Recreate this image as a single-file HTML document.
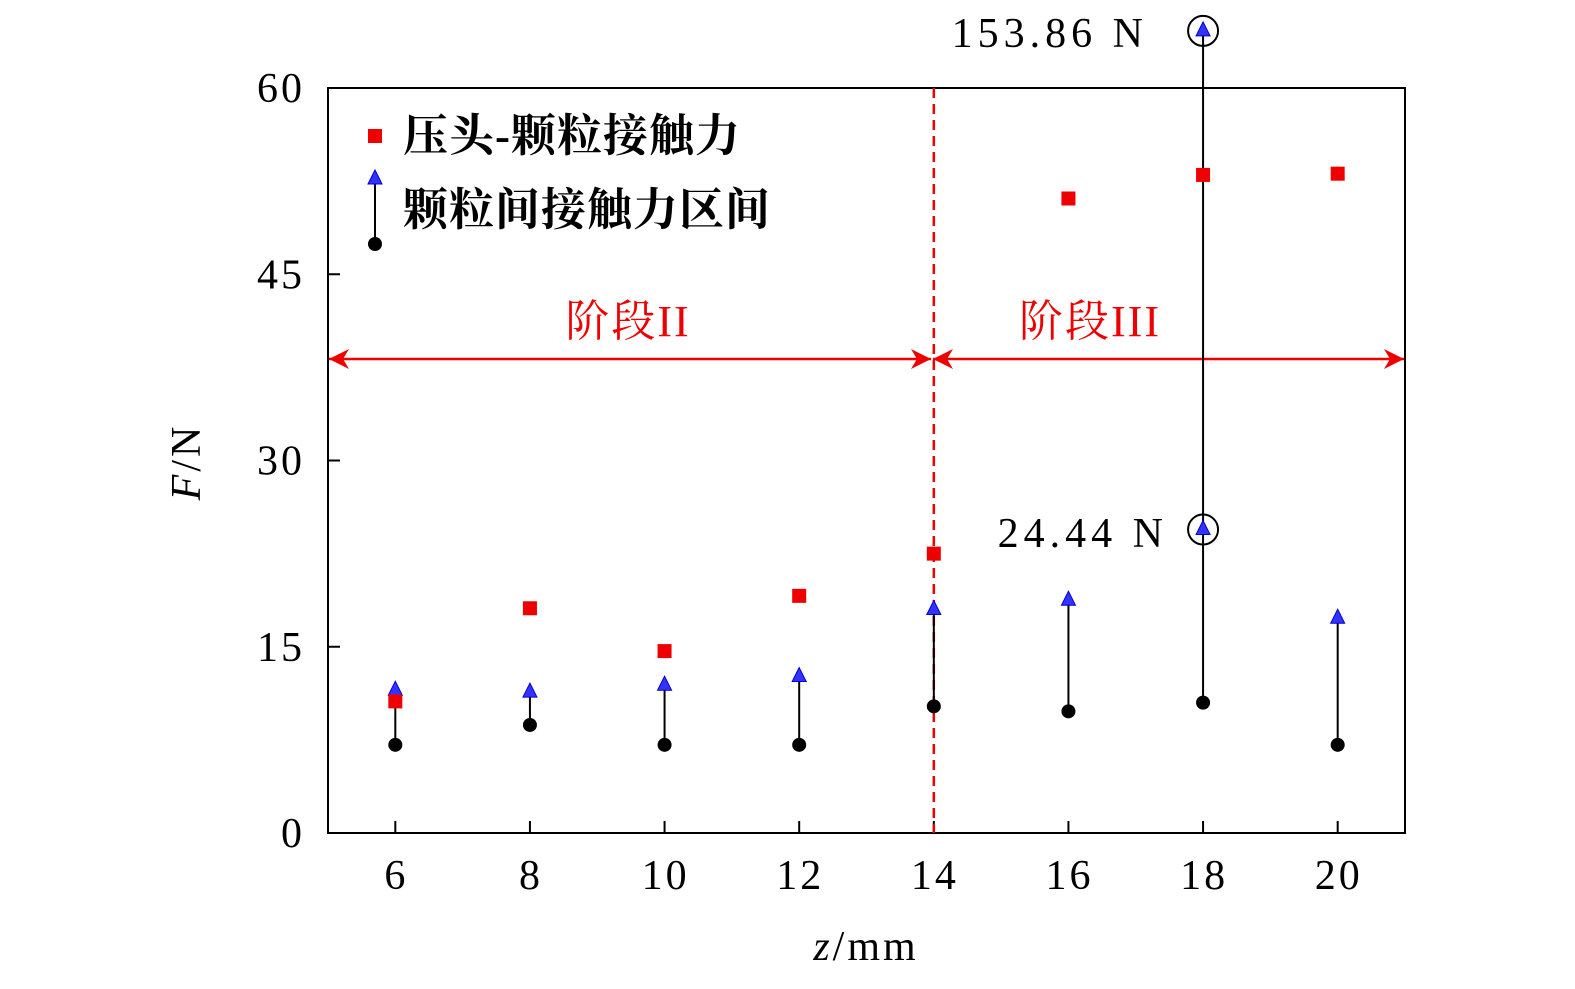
<!DOCTYPE html>
<html><head><meta charset="utf-8"><style>
body{margin:0;background:#fff}
svg text{font-family:"Liberation Serif","Noto Serif CJK SC",serif}
</style></head><body>
<svg id="chart" width="1575" height="984" xmlns="http://www.w3.org/2000/svg">
<defs>
<marker id="ah" viewBox="0 0 20 20" refX="20" refY="10" markerWidth="20" markerHeight="20" markerUnits="userSpaceOnUse" orient="auto-start-reverse"><path d="M0,0 L20,10 L0,20 L6,10 Z" fill="#e00"/></marker>
</defs>
<g id="plot"></g>
</svg>
<script>
const xs=[6,8,10,12,14,16,18,20];
const indenter=[10.6,18.1,14.65,19.1,22.5,51.1,53.0,53.1];
const interMax=[11.5,11.35,11.9,12.6,18.0,18.75,24.44,17.3];
const interMin=[7.1,8.7,7.1,7.1,10.2,9.8,10.5,7.1];
const yTicks=[0,15,30,45,60];
const peakX=18, peakVal=153.86, peakDrawn=64.6;
const NS="http://www.w3.org/2000/svg";
const X=v=>328+(v-5)*(1405-328)/16;
const Y=v=>833-v*(833-88)/60;
const g=document.getElementById('plot');
function el(t,a,txt){const e=document.createElementNS(NS,t);for(const k in a)e.setAttribute(k,a[k]);if(txt!==undefined)e.textContent=txt;g.appendChild(e);return e;}
let e;
e=el('rect',{x:328,y:88,width:1077,height:745,fill:'none',stroke:'#000','stroke-width':2});

yTicks.forEach(v=>{
 e=el('line',{x1:328,x2:340,y1:Y(v),y2:Y(v),stroke:'#000','stroke-width':2});
 
 e=el('text',{x:305,y:Y(v)+14,'text-anchor':'end','font-size':42,'letter-spacing':3},String(v));
 
});
xs.forEach(v=>{
 e=el('line',{x1:X(v),x2:X(v),y1:833,y2:821,stroke:'#000','stroke-width':2});
 
 e=el('text',{x:X(v)+1,y:889,'text-anchor':'middle','font-size':42,'letter-spacing':3},String(v));
 
});
e=el('text',{x:866,y:960,'text-anchor':'middle','font-size':42,'letter-spacing':3});
e.innerHTML='<tspan font-style="italic">z</tspan>/mm';

e=el('text',{x:0,y:0,'text-anchor':'middle','font-size':42,'letter-spacing':3,transform:'translate(200,462) rotate(-90)'});
e.innerHTML='<tspan font-style="italic">F</tspan>/N';

e=el('line',{x1:X(14),x2:X(14),y1:88,y2:833,stroke:'#e00','stroke-width':2.5,'stroke-dasharray':'10,6'});

e=el('line',{x1:329,x2:931,y1:359,y2:359,stroke:'#e00','stroke-width':2.5,'marker-start':'url(#ah)','marker-end':'url(#ah)'});

e=el('line',{x1:933,x2:1404,y1:359,y2:359,stroke:'#e00','stroke-width':2.5,'marker-start':'url(#ah)','marker-end':'url(#ah)'});

e=el('text',{x:628,y:336,'text-anchor':'middle','font-size':44,fill:'#e00','letter-spacing':2},'阶段II');

e=el('text',{x:1090,y:336,'text-anchor':'middle','font-size':44,fill:'#e00','letter-spacing':2},'阶段III');

function tri(x,y,name){e=el('path',{d:`M${x},${y-9} L${x+7},${y+5} L${x-7},${y+5} Z`,fill:'#33f',stroke:'#00c','stroke-width':1});}
xs.forEach((v,i)=>{
 const top=(v===peakX)?peakDrawn:interMax[i];
 e=el('line',{x1:X(v),x2:X(v),y1:Y(interMin[i]),y2:Y(top),stroke:'#000','stroke-width':2});
 
 e=el('circle',{cx:X(v),cy:Y(interMin[i]),r:7,fill:'#000'});
 
 tri(X(v),Y(interMax[i]),'range-max-point');
 if(v===peakX) tri(X(v),Y(peakDrawn),'range-peak-point');
});
xs.forEach((v,i)=>{
 e=el('rect',{x:X(v)-7,y:Y(indenter[i])-7,width:14,height:14,fill:'#e00'});
 
});
const i18=xs.indexOf(peakX);
e=el('circle',{cx:X(peakX),cy:Y(peakDrawn),r:15,fill:'none',stroke:'#000','stroke-width':2});

e=el('circle',{cx:X(peakX),cy:Y(interMax[i18]),r:15,fill:'none',stroke:'#000','stroke-width':2});

e=el('text',{x:1148,y:47,'text-anchor':'end','font-size':42,'letter-spacing':5},peakVal.toFixed(2)+' N');

e=el('text',{x:1168,y:547,'text-anchor':'end','font-size':42,'letter-spacing':5},interMax[i18].toFixed(2)+' N');

e=el('rect',{x:368,y:129,width:14,height:14,fill:'#e00'});

e=el('text',{x:403,y:151,'font-size':45,'font-weight':'bold','letter-spacing':1},'压头-颗粒接触力');

e=el('line',{x1:375,x2:375,y1:180,y2:244,stroke:'#000','stroke-width':2});

tri(375,179,'legend-triangle');
e=el('circle',{cx:375,cy:244,r:7,fill:'#000'});

e=el('text',{x:403,y:225,'font-size':45,'font-weight':'bold','letter-spacing':1},'颗粒间接触力区间');

</script>
</body></html>
